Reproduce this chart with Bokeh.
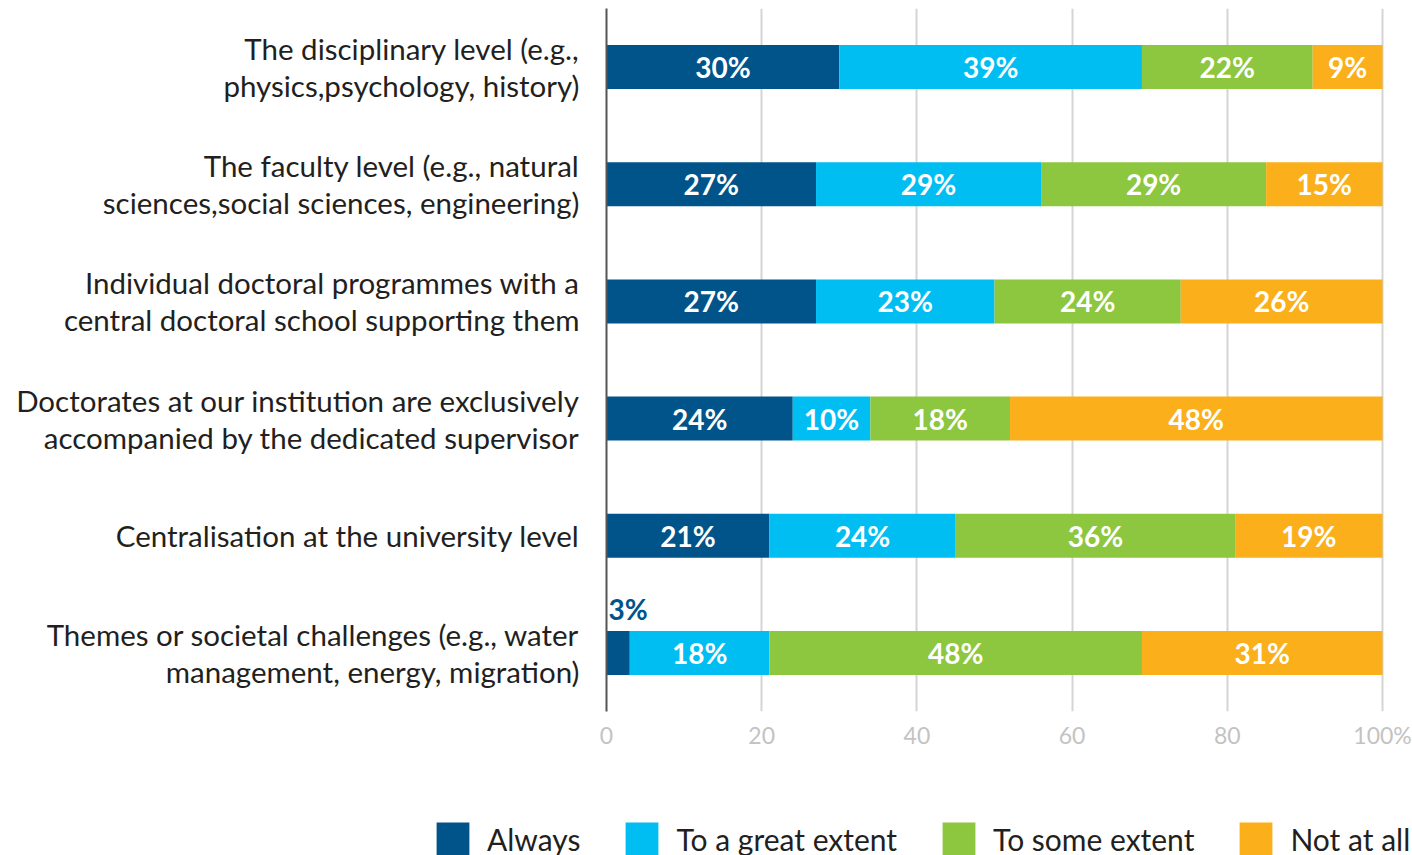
from bokeh.plotting import figure
from bokeh.layouts import column
from bokeh.models import ColumnDataSource, FactorRange, Range1d, Legend, LegendItem, FixedTicker
from bokeh.core.properties import value
from bokeh.embed import file_html
from bokeh.resources import INLINE

categories = [
    "The disciplinary level (e.g.,\nphysics,psychology, history)",
    "The faculty level (e.g., natural\nsciences,social sciences, engineering)",
    "Individual doctoral programmes with a\ncentral doctoral school supporting them",
    "Doctorates at our institution are exclusively\naccompanied by the dedicated supervisor",
    "Centralisation at the university level",
    "Themes or societal challenges (e.g., water\nmanagement, energy, migration)",
]
always = [30, 27, 27, 24, 21, 3]
great_extent = [39, 29, 23, 10, 24, 18]
some_extent = [22, 29, 24, 18, 36, 48]
not_at_all = [9, 15, 26, 48, 19, 31]

series_names = ["Always", "To a great extent", "To some extent", "Not at all"]
series_keys = ["always", "great", "some", "notall"]
colors = ["#00548a", "#00bef2", "#8dc63f", "#fbaf1a"]
x_ticks = [0, 20, 40, 60, 80, 100]

FONT = "Lato"

source = ColumnDataSource(dict(
    cat=categories, always=always, great=great_extent, some=some_extent, notall=not_at_all))

p = figure(
    width=1412, height=760,
    y_range=FactorRange(*reversed(categories)),
    x_range=Range1d(0, 100.64),
    output_backend="svg", toolbar_location=None,
    min_border_left=606, min_border_right=25, min_border_top=8, min_border_bottom=49,
)
p.outline_line_color = None
p.frame_align = False

renderers = p.hbar_stack(series_keys, y="cat", height=0.375, color=colors,
                         line_color=None, source=source)

# value labels
in_x, in_y, in_t = [], [], []
out_x, out_y, out_t, out_c = [], [], [], []
series_values = [always, great_extent, some_extent, not_at_all]
for i, cat in enumerate(categories):
    left = 0
    for s, vals in enumerate(series_values):
        v = vals[i]
        if v >= 5:
            in_x.append(left + v / 2)
            in_y.append(cat)
            in_t.append(f"{v}%")
        else:
            out_x.append(left)
            out_y.append(cat)
            out_t.append(f"{v}%")
            out_c.append(colors[s])
        left += v

p.text(x=in_x, y=in_y, text=in_t, text_color="white", text_align="center",
       text_baseline="middle", text_font=value(FONT), text_font_style="bold",
       text_font_size="28px")
p.text(x=out_x, y=out_y, text=out_t, text_color=out_c, text_align="left",
       text_baseline="middle", text_font=value(FONT), text_font_style="bold",
       text_font_size="28px", x_offset=2, y_offset=-44)

# axes
p.xgrid.grid_line_color = "#d4d4d4"
p.xgrid.grid_line_width = 2
p.ygrid.grid_line_color = None
p.xaxis.ticker = FixedTicker(ticks=x_ticks)
p.xaxis.major_label_overrides = {100: "100%"}
p.xaxis.axis_line_color = None
p.xaxis.major_tick_line_color = None
p.xaxis.major_tick_out = 0
p.xaxis.minor_tick_line_color = None
p.xaxis.major_label_text_color = "#c3c3c3"
p.xaxis.major_label_text_font = FONT
p.xaxis.major_label_text_font_size = "23px"
p.xaxis.major_label_standoff = 9

p.yaxis.axis_line_color = "#555555"
p.yaxis.axis_line_width = 2
p.yaxis.major_tick_line_color = None
p.yaxis.major_tick_out = 0
p.yaxis.minor_tick_line_color = None
p.yaxis.major_label_standoff = 27
p.yaxis.major_label_text_font = FONT
p.yaxis.major_label_text_font_size = "29.5px"
p.yaxis.major_label_text_color = "#231f20"
p.yaxis.major_label_text_line_height = 1.06

# legend in its own strip below the chart (same data, scrolled out of view)
pl = figure(width=1412, height=95, x_range=Range1d(-2, -1),
            y_range=FactorRange(*reversed(categories)),
            output_backend="svg", toolbar_location=None,
            x_axis_type=None, y_axis_type=None,
            min_border_left=0, min_border_right=0, min_border_top=0, min_border_bottom=0)
pl.outline_line_color = None
pl.grid.visible = False
pl.frame_align = False
leg_renderers = pl.hbar_stack(series_keys, y="cat", height=0.375, color=colors,
                              line_color=None, source=source)

legend = Legend(
    items=[LegendItem(label=n, renderers=[r]) for n, r in zip(series_names, leg_renderers)],
    orientation="horizontal", location=(432, -4),
    glyph_width=41, glyph_height=41, label_standoff=14, spacing=41,
    label_height=41, label_text_font=FONT, label_text_font_size="30px",
    label_text_color="#231f20",
    padding=0, margin=0, border_line_color=None, background_fill_alpha=0,
)
pl.add_layout(legend)

open("out.html", "w").write(file_html(column(p, pl, spacing=0), INLINE))
